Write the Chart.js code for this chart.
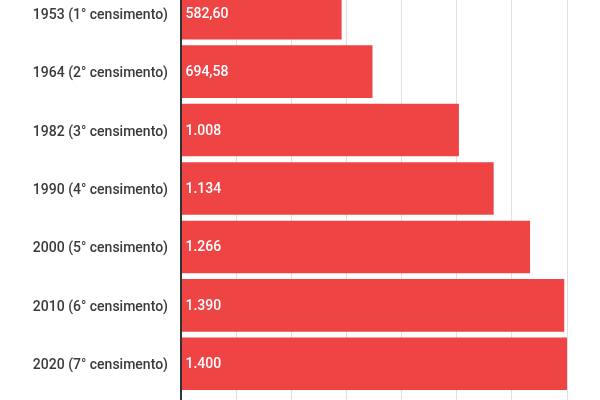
<!DOCTYPE html>
<html>
<head>
<meta charset="utf-8">
<script src="https://cdn.jsdelivr.net/npm/chart.js@4"></script>
<style>
  html, body { margin: 0; padding: 0; background: #fff; overflow: hidden; }
  #wrap { position: absolute; left: 0; top: -16px; width: 600px; height: 439px; }
</style>
</head>
<body>
<div id="wrap"><canvas id="censusChart"></canvas></div>
<script>
const censusLabels = [
  '1953 (1° censimento)',
  '1964 (2° censimento)',
  '1982 (3° censimento)',
  '1990 (4° censimento)',
  '2000 (5° censimento)',
  '2010 (6° censimento)',
  '2020 (7° censimento)'
];
const censusValues = [582.60, 694.58, 1008, 1134, 1266, 1390, 1400];
const xTicks = { min: 0, max: 1400, step: 200 };

// formato italiano: 582,60 / 1.008
function fmtIt(v) {
  if (v < 1000) return v.toFixed(2).replace('.', ',');
  return Math.round(v).toString().replace(/\B(?=(\d{3})+(?!\d))/g, '.');
}

const valueLabels = {
  id: 'valueLabels',
  afterDatasetsDraw(chart) {
    const ctx = chart.ctx;
    const meta = chart.getDatasetMeta(0);
    ctx.save();
    ctx.font = '500 14px Roboto';
    ctx.fillStyle = '#ffffff';
    ctx.textAlign = 'left';
    ctx.textBaseline = 'middle';
    meta.data.forEach((bar, i) => {
      ctx.fillText(fmtIt(censusValues[i]), bar.base + 3.5, bar.y + 1);
    });
    ctx.restore();
  }
};

Chart.defaults.font.family = 'Roboto';

const ctx = document.getElementById('censusChart').getContext('2d');
new Chart(ctx, {
  type: 'bar',
  data: {
    labels: censusLabels,
    datasets: [{
      data: censusValues,
      backgroundColor: '#ef4444',
      borderWidth: 0,
      barPercentage: 0.9,
      categoryPercentage: 1.0
    }]
  },
  options: {
    indexAxis: 'y',
    responsive: true,
    maintainAspectRatio: false,
    animation: false,
    layout: { padding: { left: 0, right: 33, top: 0, bottom: 0 } },
    plugins: {
      legend: { display: false },
      tooltip: { enabled: false }
    },
    scales: {
      x: {
        min: xTicks.min,
        max: xTicks.max,
        ticks: { stepSize: xTicks.step, color: '#666', font: { size: 12 } },
        grid: {
          color: c => (c.tick && c.tick.value === 0) ? '#333333' : '#e0e0e0',
          lineWidth: c => (c.tick && c.tick.value === 0) ? 2 : 1,
          drawTicks: true,
          tickLength: 8
        },
        border: { display: false },
        afterFit(scale) { scale.height = 30; }
      },
      y: {
        ticks: { color: '#3a3a3a', font: { size: 14, weight: '500' }, padding: 13, labelOffset: 2 },
        grid: { display: false, drawTicks: false },
        border: { display: true, color: '#333333', width: 2 },
        afterFit(scale) {
          scale.width = 181;
          scale.paddingTop = 0;
          scale.paddingBottom = 0;
        }
      }
    }
  },
  plugins: [valueLabels]
});
</script>
</body>
</html>
